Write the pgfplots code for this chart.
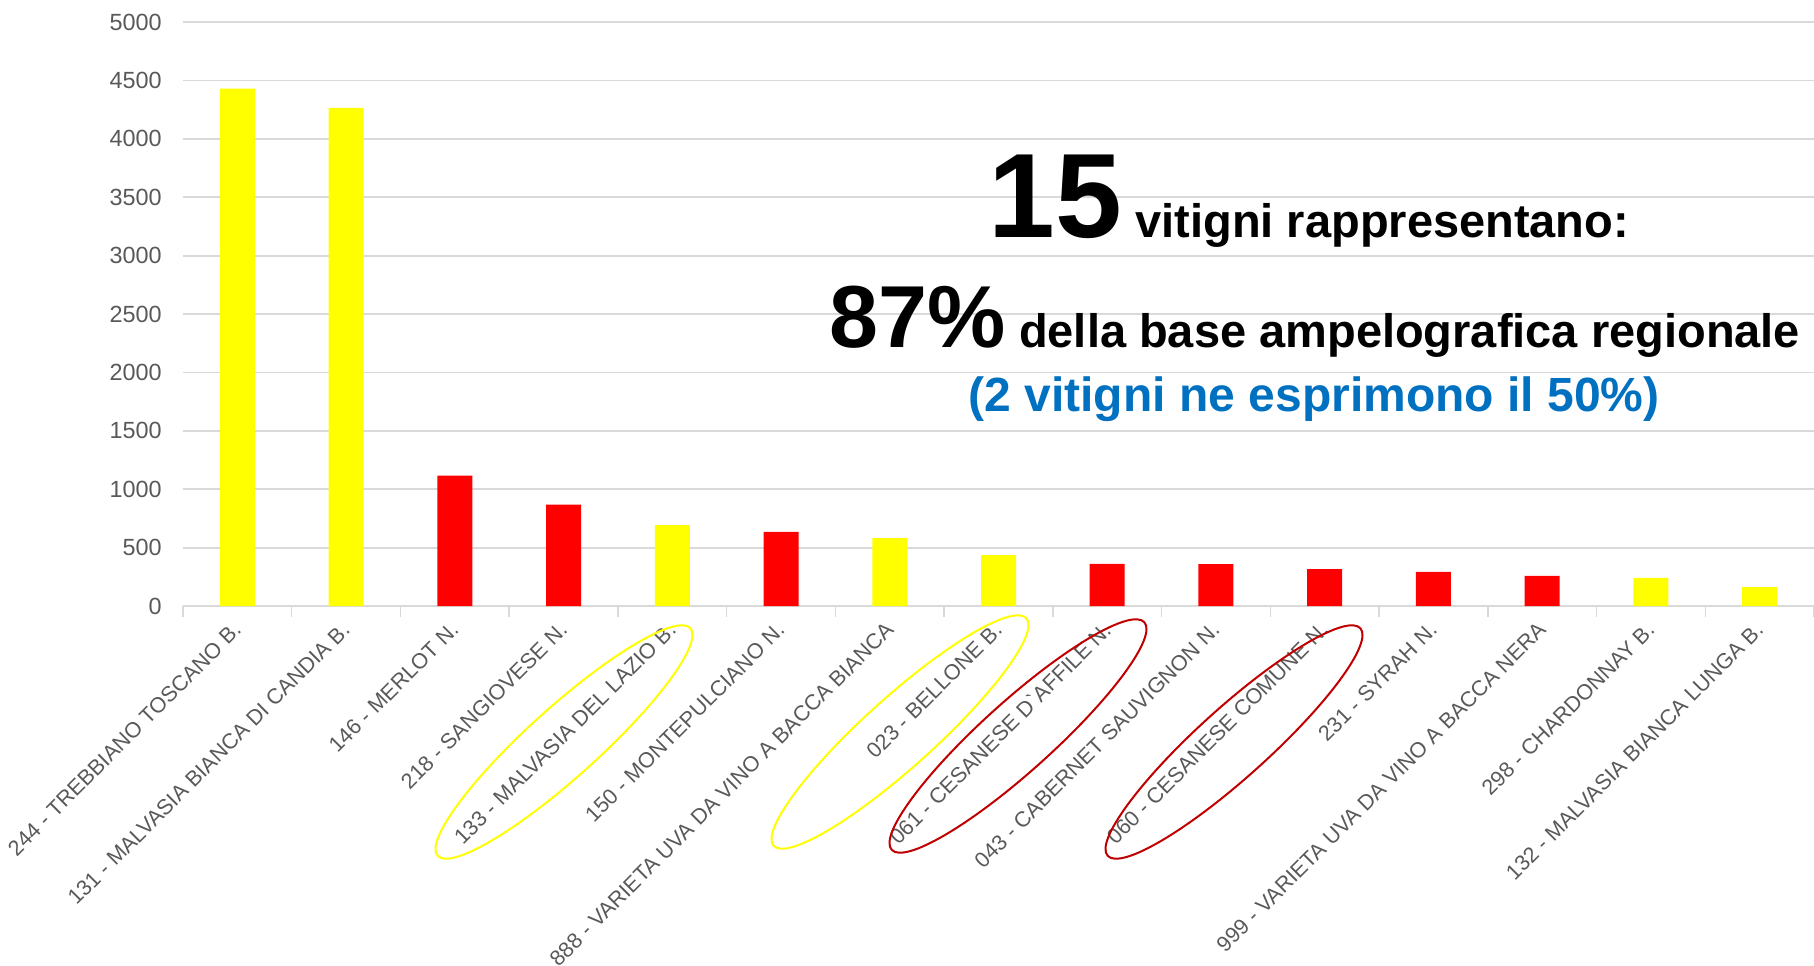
\documentclass[border=0pt]{standalone}
\usepackage{fontspec}
\setmainfont{Liberation Sans}
\usepackage{pgfplots}
\pgfplotsset{compat=1.18}
\usetikzlibrary{shapes.geometric}

\definecolor{byellow}{HTML}{FFFF00}
\definecolor{bred}{HTML}{FF0000}
\definecolor{gridc}{HTML}{D9D9D9}
\definecolor{labc}{HTML}{595959}
\definecolor{ered}{HTML}{C00000}
\definecolor{blu}{HTML}{0070C0}

\begin{document}
\begin{tikzpicture}
\begin{axis}[
    name=ax,
    width=815.5pt, height=292pt, scale only axis,
    xmin=0.5, xmax=15.5, ymin=0, ymax=5000,
    enlargelimits=false,
    ybar, bar width=17.5pt,
    axis x line*=bottom, axis y line*=left,
    x axis line style={draw=gridc, line width=0.9pt, -},
    y axis line style={draw=none},
    ymajorgrids, grid style={draw=gridc, line width=0.9pt},
    ytick={0,500,...,5000},
    xtick={1,...,15},
    xticklabels={
        {244 - TREBBIANO TOSCANO B.},
        {131 - MALVASIA BIANCA DI CANDIA B.},
        {146 - MERLOT N.},
        {218 - SANGIOVESE N.},
        {133 - MALVASIA DEL LAZIO B.},
        {150 - MONTEPULCIANO N.},
        {888 - VARIETA UVA DA VINO A BACCA BIANCA},
        {023 - BELLONE B.},
        {061 - CESANESE D\textasciigrave AFFILE N.},
        {043 - CABERNET SAUVIGNON N.},
        {060 - CESANESE COMUNE N.},
        {231 - SYRAH N.},
        {999 - VARIETA UVA DA VINO A BACCA NERA},
        {298 - CHARDONNAY B.},
        {132 - MALVASIA BIANCA LUNGA B.}},
    minor xtick={0.5,1.5,...,15.5},
    tick align=outside,
    major tick length=0pt, minor tick length=5.5pt,
    minor tick style={draw=gridc, line width=0.75pt},
    yticklabel style={font=\fontsize{11.7}{13}\selectfont, text=labc, inner sep=0pt, xshift=-10.5pt},
    xticklabel style={font=\fontsize{10.8}{12}\selectfont, text=labc, yshift=-10pt, rotate=45, anchor=east, inner sep=0pt},
    /pgf/number format/assume math mode=true,
    /pgf/number format/1000 sep={},
    clip=false,
]
% yellow bars
\addplot[fill=byellow, draw=none, bar shift=0pt] coordinates {
    (1,4430) (2,4265) (5,692) (7,582) (8,435) (14,240) (15,162)};
% red bars
\addplot[fill=bred, draw=none, bar shift=0pt] coordinates {
    (3,1116) (4,867) (6,634) (9,360) (10,358) (11,315) (12,292) (13,258)};
\end{axis}

\begin{scope}[shift={(ax.south west)}]
% highlighted labels
\node[draw=byellow, line width=1pt, ellipse, inner sep=0pt, minimum width=170pt, minimum height=35pt, rotate=42] at (190.5pt,-68pt) {};
\node[draw=byellow, line width=1pt, ellipse, inner sep=0pt, minimum width=170pt, minimum height=35pt, rotate=42] at (358.5pt,-63pt) {};
\node[draw=ered, line width=1pt, ellipse, inner sep=0pt, minimum width=170pt, minimum height=35pt, rotate=42] at (417.5pt,-65pt) {};
\node[draw=ered, line width=1pt, ellipse, inner sep=0pt, minimum width=170pt, minimum height=35pt, rotate=42] at (525.5pt,-68pt) {};
% text
\node[anchor=base, inner sep=0pt, font=\bfseries] at (563pt,184.5pt)
    {{\fontsize{60}{60}\selectfont 15}{\fontsize{23.5}{28}\selectfont\ vitigni rappresentano:}};
\node[anchor=base, inner sep=0pt, font=\bfseries] at (566pt,129.5pt)
    {{\fontsize{44}{44}\selectfont 87\%}{\fontsize{23.5}{28}\selectfont\ della base ampelografica regionale}};
\node[anchor=base, inner sep=0pt, font=\bfseries, text=blu] at (565.5pt,97.5pt)
    {\fontsize{24}{28}\selectfont (2 vitigni ne esprimono il 50\%)};
\end{scope}

\pgfresetboundingbox
\path ([shift={(-91.5pt,-179.5pt)}]ax.south west) rectangle ([shift={(0pt,11pt)}]ax.north east);
\end{tikzpicture}
\end{document}
